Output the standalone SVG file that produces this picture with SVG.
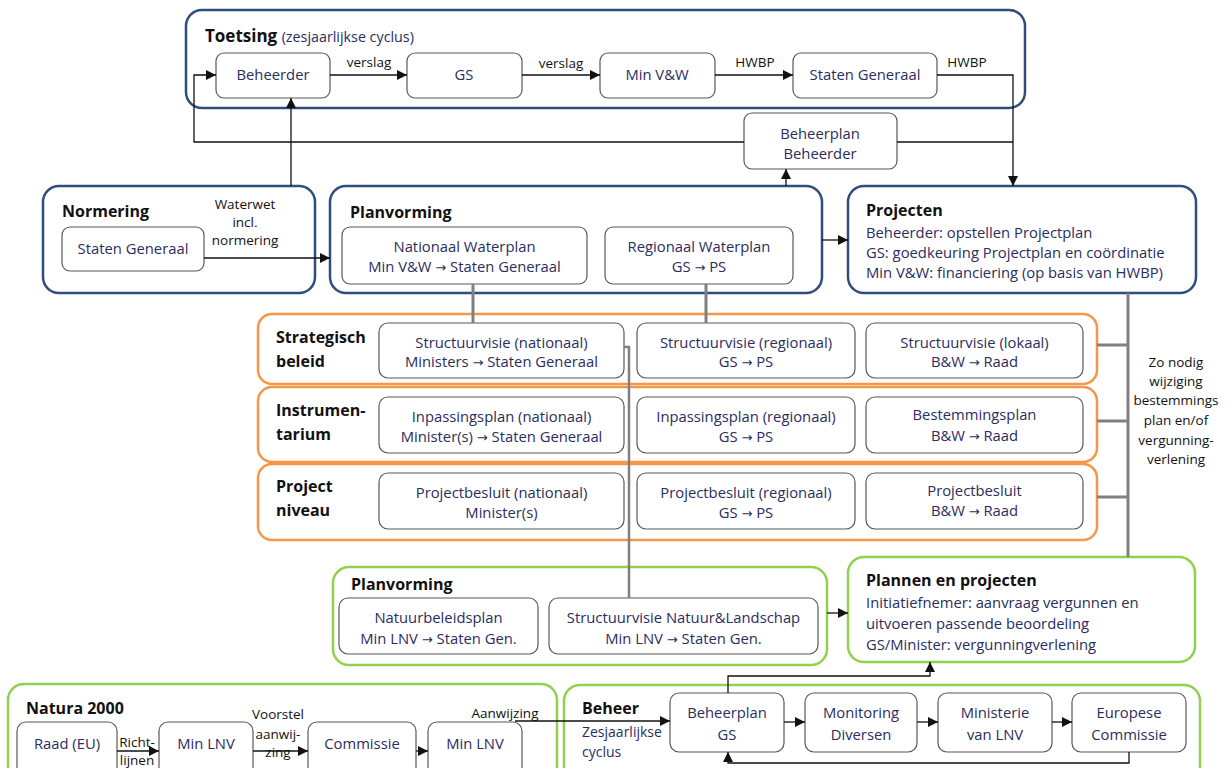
<svg xmlns="http://www.w3.org/2000/svg" width="1231" height="768" viewBox="0 0 1231 768">
<style>
.blue{fill:#fff;stroke:#2F4E7E;stroke-width:2.5}
.orange{fill:#fff;stroke:#F79646;stroke-width:2.5}
.green{fill:#fff;stroke:#92D050;stroke-width:2.5}
.box{fill:#fff;stroke:#595959;stroke-width:1.2}
.t{font-family:"Open Sans","Liberation Sans",sans-serif;font-size:14.8px;fill:#2B2D5E}
.c{text-anchor:middle}
.h{font-family:"Open Sans","Liberation Sans",sans-serif;font-size:16px;font-weight:bold;fill:#111}
.s{font-family:"Open Sans","Liberation Sans",sans-serif;font-size:13.5px;fill:#111}
.ar{font-family:"DejaVu Sans",sans-serif;font-size:13px}
.ln{fill:none;stroke:#111;stroke-width:1.3}
.gr{fill:none;stroke:#808080;stroke-width:3}
</style>
<defs>
<marker id="a" viewBox="0 0 10 10" refX="10" refY="5" markerWidth="10" markerHeight="10" markerUnits="userSpaceOnUse" orient="auto">
<path d="M0,0 L10,5 L0,10 z" fill="#111"/>
</marker>
</defs>
<rect width="1231" height="768" fill="#fff"/>

<g id="toetsing">
<rect class="blue" x="186" y="10" width="839" height="98" rx="16"/>
<text class="h" x="205" y="42" style="font-size:17px">Toetsing <tspan style="font-weight:normal;font-size:14.3px;fill:#2B2D5E">(zesjaarlijkse cyclus)</tspan></text>
</g>
<g id="beheerder"><rect class="box" x="216" y="53" width="114" height="45" rx="8"/><text class="t c" x="273" y="80">Beheerder</text></g>
<g id="gs"><rect class="box" x="407" y="53" width="115" height="45" rx="8"/><text class="t c" x="464" y="80">GS</text></g>
<g id="minvw"><rect class="box" x="600" y="53" width="115" height="45" rx="8"/><text class="t c" x="657" y="80">Min V&amp;W</text></g>
<g id="statengen1"><rect class="box" x="793" y="53" width="144" height="45" rx="8"/><text class="t c" x="865" y="80">Staten Generaal</text></g>
<g id="beheerplan-beheerder"><rect class="box" x="744" y="113" width="153" height="56" rx="8"/><text class="t c" x="820" y="139">Beheerplan</text><text class="t c" x="820" y="159">Beheerder</text></g>

<g id="normering">
<rect class="blue" x="43" y="186" width="272" height="107" rx="16"/>
<text class="h" x="62" y="217">Normering</text>
<rect class="box" x="62" y="227" width="142" height="44" rx="8"/><text class="t c" x="133" y="254">Staten Generaal</text>
</g>

<g id="planvorming">
<rect class="blue" x="330" y="186" width="492" height="107" rx="16"/>
<text class="h" x="350" y="218">Planvorming</text>
<rect class="box" x="342" y="227" width="245" height="57" rx="8"/>
<text class="t c" x="464.5" y="252">Nationaal Waterplan</text><text class="t c" x="464.5" y="272">Min V&amp;W <tspan class="ar">→</tspan> Staten Generaal</text>
<rect class="box" x="605" y="227" width="188" height="57" rx="8"/>
<text class="t c" x="699" y="252">Regionaal Waterplan</text><text class="t c" x="699" y="272">GS <tspan class="ar">→</tspan> PS</text>
</g>

<g id="projecten">
<rect class="blue" x="848" y="186" width="348" height="107" rx="16"/>
<text class="h" x="866" y="216">Projecten</text>
<text class="t" x="866" y="238">Beheerder: opstellen Projectplan</text>
<text class="t" x="866" y="258">GS: goedkeuring Projectplan en coördinatie</text>
<text class="t" x="866" y="278">Min V&amp;W: financiering (op basis van HWBP)</text>
</g>

<g id="strategisch">
<rect class="orange" x="258" y="314" width="839" height="70" rx="14"/>
<text class="h" x="276" y="343">Strategisch</text><text class="h" x="276" y="367">beleid</text>
<rect class="box" x="379" y="323" width="245" height="55" rx="9"/>
<text class="t c" x="501.5" y="348">Structuurvisie (nationaal)</text><text class="t c" x="501.5" y="367">Ministers <tspan class="ar">→</tspan> Staten Generaal</text>
<rect class="box" x="637" y="323" width="218" height="55" rx="9"/>
<text class="t c" x="746" y="348">Structuurvisie (regionaal)</text><text class="t c" x="746" y="367">GS <tspan class="ar">→</tspan> PS</text>
<rect class="box" x="866" y="323" width="217" height="55" rx="9"/>
<text class="t c" x="974.5" y="348">Structuurvisie (lokaal)</text><text class="t c" x="974.5" y="367">B&amp;W <tspan class="ar">→</tspan> Raad</text>
</g>

<g id="instrumentarium">
<rect class="orange" x="258" y="387" width="839" height="75" rx="14"/>
<text class="h" x="276" y="416">Instrumen-</text><text class="h" x="276" y="440">tarium</text>
<rect class="box" x="379" y="397" width="245" height="56" rx="9"/>
<text class="t c" x="501.5" y="422">Inpassingsplan (nationaal)</text><text class="t c" x="501.5" y="442">Minister(s) <tspan class="ar">→</tspan> Staten Generaal</text>
<rect class="box" x="637" y="397" width="218" height="56" rx="9"/>
<text class="t c" x="746" y="422">Inpassingsplan (regionaal)</text><text class="t c" x="746" y="442">GS <tspan class="ar">→</tspan> PS</text>
<rect class="box" x="866" y="397" width="217" height="56" rx="9"/>
<text class="t c" x="974.5" y="420">Bestemmingsplan</text><text class="t c" x="974.5" y="441">B&amp;W <tspan class="ar">→</tspan> Raad</text>
</g>

<g id="projectniveau">
<rect class="orange" x="258" y="464" width="839" height="76" rx="14"/>
<text class="h" x="276" y="492">Project</text><text class="h" x="276" y="516">niveau</text>
<rect class="box" x="379" y="473" width="245" height="56" rx="9"/>
<text class="t c" x="501.5" y="498">Projectbesluit (nationaal)</text><text class="t c" x="501.5" y="518">Minister(s)</text>
<rect class="box" x="637" y="473" width="218" height="56" rx="9"/>
<text class="t c" x="746" y="498">Projectbesluit (regionaal)</text><text class="t c" x="746" y="518">GS <tspan class="ar">→</tspan> PS</text>
<rect class="box" x="866" y="473" width="217" height="56" rx="9"/>
<text class="t c" x="974.5" y="496">Projectbesluit</text><text class="t c" x="974.5" y="516">B&amp;W <tspan class="ar">→</tspan> Raad</text>
</g>

<g id="zonodig">
<text class="s c" x="1176" y="367">Zo nodig</text>
<text class="s c" x="1176" y="386">wijziging</text>
<text class="s c" x="1176" y="405">bestemmings</text>
<text class="s c" x="1176" y="425">plan en/of</text>
<text class="s c" x="1176" y="445">vergunning-</text>
<text class="s c" x="1176" y="464">verlening</text>
</g>

<g id="planvorming-natuur">
<rect class="green" x="333" y="567" width="494" height="98" rx="16"/>
<text class="h" x="351" y="590">Planvorming</text>
<rect class="box" x="339" y="598" width="199" height="56" rx="9"/>
<text class="t c" x="438.5" y="623">Natuurbeleidsplan</text><text class="t c" x="438.5" y="644">Min LNV <tspan class="ar">→</tspan> Staten Gen.</text>
<rect class="box" x="549" y="598" width="269" height="56" rx="9"/>
<text class="t c" x="683.5" y="623">Structuurvisie Natuur&amp;Landschap</text><text class="t c" x="683.5" y="644">Min LNV <tspan class="ar">→</tspan> Staten Gen.</text>
</g>

<g id="plannen-projecten">
<rect class="green" x="848" y="557" width="347" height="105" rx="16"/>
<text class="h" x="866" y="586">Plannen en projecten</text>
<text class="t" x="866" y="608">Initiatiefnemer: aanvraag vergunnen en</text>
<text class="t" x="866" y="629">uitvoeren passende beoordeling</text>
<text class="t" x="866" y="650">GS/Minister: vergunningverlening</text>
</g>

<g id="natura2000">
<rect class="green" x="8" y="684" width="549" height="110" rx="16"/>
<text class="h" x="26" y="714">Natura 2000</text>
<rect class="box" x="17" y="722" width="100" height="60" rx="9"/><text class="t c" x="67" y="749">Raad (EU)</text>
<rect class="box" x="159" y="722" width="94" height="60" rx="9"/><text class="t c" x="206" y="749">Min LNV</text>
<rect class="box" x="308" y="722" width="108" height="60" rx="9"/><text class="t c" x="362" y="749">Commissie</text>
<rect class="box" x="428" y="722" width="94" height="60" rx="9"/><text class="t c" x="475" y="749">Min LNV</text>
</g>

<g id="beheer">
<rect class="green" x="564" y="685" width="636" height="110" rx="16"/>
<text class="h" x="582" y="714">Beheer</text>
<text class="t" x="582" y="737" style="font-size:14px">Zesjaarlijkse</text>
<text class="t" x="582" y="757" style="font-size:14px">cyclus</text>
<rect class="box" x="670" y="693" width="114" height="59" rx="9"/>
<text class="t c" x="727" y="718">Beheerplan</text><text class="t c" x="727" y="740">GS</text>
<rect class="box" x="805" y="693" width="112" height="59" rx="9"/>
<text class="t c" x="861" y="718">Monitoring</text><text class="t c" x="861" y="740">Diversen</text>
<rect class="box" x="938" y="693" width="114" height="59" rx="9"/>
<text class="t c" x="995" y="718">Ministerie</text><text class="t c" x="995" y="740">van LNV</text>
<rect class="box" x="1072" y="693" width="114" height="59" rx="9"/>
<text class="t c" x="1129" y="718">Europese</text><text class="t c" x="1129" y="740">Commissie</text>
</g>

<g id="connectors">
<path class="ln" d="M330,75 H407" marker-end="url(#a)"/>
<path class="ln" d="M522,75 H600" marker-end="url(#a)"/>
<path class="ln" d="M715,75 H793" marker-end="url(#a)"/>
<path class="ln" d="M937,75 H1013 V186" marker-end="url(#a)"/>
<path class="ln" d="M744,142 H194 V75 H216" marker-end="url(#a)"/>
<path class="ln" d="M897,142 H1013"/>
<path class="ln" d="M786,186 V169" marker-end="url(#a)"/>
<path class="ln" d="M291,186 V98" marker-end="url(#a)"/>
<path class="ln" d="M204,258 H330" marker-end="url(#a)"/>
<path class="ln" d="M822,240 H848" marker-end="url(#a)"/>
<path class="ln" d="M827,613 H848" marker-end="url(#a)"/>
<path class="ln" d="M728,693 V676 H930 V662" marker-end="url(#a)"/>
<path class="ln" d="M117,751 H159" marker-end="url(#a)"/>
<path class="ln" d="M253,751 H308" marker-end="url(#a)"/>
<path class="ln" d="M416,751 H428" marker-end="url(#a)"/>
<path class="ln" d="M515,721 H670" marker-end="url(#a)"/>
<path class="ln" d="M784,722 H805" marker-end="url(#a)"/>
<path class="ln" d="M917,722 H938" marker-end="url(#a)"/>
<path class="ln" d="M1052,722 H1072" marker-end="url(#a)"/>
<path class="ln" d="M1129,752 V763 H728 V752" marker-end="url(#a)"/>
<path class="gr" d="M473,284 V323"/>
<path class="gr" d="M706,284 V323"/>
<path class="gr" d="M624,347 H629 V598" style="stroke-width:2.5"/>
<path class="gr" d="M1128,293 V557"/>
<path class="gr" d="M1097,345 H1128"/>
<path class="gr" d="M1097,421 H1128"/>
<path class="gr" d="M1097,497 H1128"/>
<text class="s c" x="369" y="67">verslag</text>
<text class="s c" x="561" y="68">verslag</text>
<text class="s c" x="755" y="67">HWBP</text>
<text class="s c" x="967" y="67">HWBP</text>
<text class="s c" x="245" y="209">Waterwet</text>
<text class="s c" x="245" y="227">incl.</text>
<text class="s c" x="245" y="245">normering</text>
<text class="s c" x="137" y="747">Richt-</text>
<text class="s c" x="137" y="765">lijnen</text>
<text class="s c" x="278" y="719">Voorstel</text>
<text class="s c" x="278" y="739">aanwij-</text>
<text class="s c" x="278" y="757">zing</text>
<text class="s c" x="505" y="718">Aanwijzing</text>
</g>
</svg>
